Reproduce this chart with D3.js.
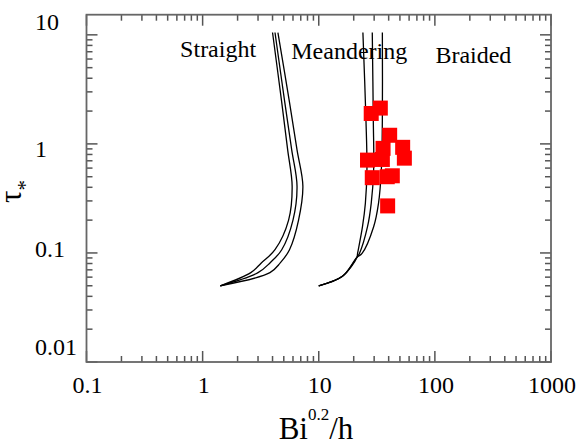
<!DOCTYPE html>
<html>
<head>
<meta charset="utf-8">
<script src="https://cdn.jsdelivr.net/npm/d3@7"></script>
<style>
  body { margin: 0; background: #fff; }
  svg { display: block; }
</style>
</head>
<body>
<script>
const width = 585;
const height = 446;
const marginTop = 14.7;
const marginRight = 34;
const marginBottom = 84;
const marginLeft = 86.5;
const serif = "Liberation Serif";

// tick labels
const xTickLabels = [0.1, 1, 10, 100, 1000];
const yTickLabels = [0.01, 0.1, 1, 10];

// Straight / Meandering boundary (three curves), [Bi^0.2/h, tau*]
const straightA = [[4.0, 10.5], [4.8, 2.4], [5.4, 0.88], [5.9, 0.41], [5.5, 0.2], [4.2, 0.107], [3.2, 0.081], [2.6, 0.066], [1.42, 0.05]];
const straightB = [[4.2, 10.5], [5.1, 2.4], [5.85, 0.88], [6.5, 0.41], [6.0, 0.2], [4.8, 0.107], [3.8, 0.081], [3.0, 0.066], [1.42, 0.05]];
const straightC = [[4.45, 10.5], [5.6, 2.4], [6.5, 0.88], [7.3, 0.41], [6.7, 0.2], [5.6, 0.107], [4.66, 0.081], [3.8, 0.066], [1.42, 0.05]];

// Meandering / Braided boundary (three curves)
const braidA = [[10, 0.05], [16, 0.061], [21.3, 0.091], [21.6, 0.099], [23.8, 0.174], [25.2, 0.285], [26, 0.58], [25.5, 1.66], [24, 10.5]];
const braidB = [[10, 0.05], [16, 0.061], [21.3, 0.091], [22.4, 0.099], [26.3, 0.174], [28.3, 0.285], [29.7, 0.58], [29.5, 1.66], [28.9, 10.5]];
const braidC = [[10, 0.05], [16, 0.061], [21.3, 0.091], [23.6, 0.099], [29.7, 0.174], [32.7, 0.285], [34.6, 0.58], [35.3, 1.66], [35.3, 10.5]];

// observed points
const obsBi = [28.3, 33.9, 40.8, 35.8, 52.8, 54.6, 26.3, 35.3, 28.9, 38.9, 43.0, 39.2];
const obsTau = [1.90, 2.13, 1.20, 0.91, 0.93, 0.74, 0.71, 0.72, 0.49, 0.50, 0.51, 0.27];

// region labels
const regionNames = ["Straight", "Meandering", "Braided"];
const regionX = [0.64, 5.8, 101];
const regionY = [6.3, 6.0, 5.5];

const x = d3.scaleLog([0.1, 1000], [marginLeft, width - marginRight]);
const y = d3.scaleLog([0.01, 15.3], [height - marginBottom, marginTop]);

const svg = d3
  .select("body")
  .append("svg")
  .attr("width", width)
  .attr("height", height)
  .attr("font-family", serif);

const x0 = marginLeft;
const x1 = width - marginRight;
const y0 = height - marginBottom;
const y1 = marginTop;

// ticks (inward, mirrored on all four sides)
const xMinor = x.ticks().filter((d) => !xTickLabels.includes(d));
const yMinor = y.ticks().filter((d) => !yTickLabels.includes(d));
const tickColor = "#555";
const major = 11;
const minor = 6;

const ticks = svg.append("g").attr("stroke", tickColor).attr("stroke-width", 1.5);

function xTicks(vals, len) {
  ticks.append("g").selectAll("line").data(vals).join("line")
    .attr("x1", (d) => x(d)).attr("x2", (d) => x(d))
    .attr("y1", y0).attr("y2", y0 - len);
  ticks.append("g").selectAll("line").data(vals).join("line")
    .attr("x1", (d) => x(d)).attr("x2", (d) => x(d))
    .attr("y1", y1).attr("y2", y1 + len);
}
function yTicks(vals, len) {
  ticks.append("g").selectAll("line").data(vals).join("line")
    .attr("y1", (d) => y(d)).attr("y2", (d) => y(d))
    .attr("x1", x0).attr("x2", x0 + len);
  ticks.append("g").selectAll("line").data(vals).join("line")
    .attr("y1", (d) => y(d)).attr("y2", (d) => y(d))
    .attr("x1", x1).attr("x2", x1 - len);
}
xTicks(xTickLabels, major);
xTicks(xMinor, minor);
yTicks(yTickLabels, major);
yTicks(yMinor, minor);

// frame
svg.append("rect")
  .attr("x", x0).attr("y", y1)
  .attr("width", x1 - x0).attr("height", y0 - y1)
  .attr("fill", "none")
  .attr("stroke", "#666")
  .attr("stroke-width", 1.8);

// tick labels
svg.append("g")
  .attr("font-size", 24)
  .attr("text-anchor", "middle")
  .selectAll("text")
  .data(xTickLabels)
  .join("text")
  .attr("font-family", serif)
  .attr("x", (d) => x(d) + 1)
  .attr("y", y0 + 31)
  .text((d) => d);

// the y labels in the original sit slightly off their ticks
const yLabelNudge = [-15, -4, 5, -13];
svg.append("g")
  .attr("font-size", 24)
  .attr("text-anchor", "start")
  .selectAll("text")
  .data(yTickLabels)
  .join("text")
  .attr("font-family", serif)
  .attr("x", 35)
  .attr("y", (d, i) => y(d) + yLabelNudge[i] + 8)
  .text((d) => d);

// boundary curves
const line = d3.line()
  .x((d) => x(d[0]))
  .y((d) => y(d[1]))
  .curve(d3.curveCatmullRom.alpha(0.5));

svg.append("g")
  .attr("fill", "none")
  .attr("stroke", "#000")
  .attr("stroke-width", 1.3)
  .selectAll("path")
  .data([straightA, straightB, straightC, braidA, braidB, braidC])
  .join("path")
  .attr("d", line);

// observed points
const sq = 15;
svg.append("g")
  .attr("fill", "#ff0000")
  .selectAll("rect")
  .data(obsBi.map((d, i) => [d, obsTau[i]]))
  .join("rect")
  .attr("x", (d) => x(d[0]) - sq / 2)
  .attr("y", (d) => y(d[1]) - sq / 2)
  .attr("width", sq)
  .attr("height", sq);

// region labels
svg.append("g")
  .attr("font-size", 24)
  .selectAll("text")
  .data(regionNames)
  .join("text")
  .attr("font-family", serif)
  .attr("x", (d, i) => x(regionX[i]))
  .attr("y", (d, i) => y(regionY[i]))
  .text((d) => d);

// axis titles
const xt = svg.append("text")
  .attr("font-family", serif)
  .attr("x", 316)
  .attr("y", 439)
  .attr("text-anchor", "middle")
  .attr("font-size", 31);
xt.append("tspan").text("Bi");
xt.append("tspan").attr("font-size", 17).attr("dy", -19).text("0.2");
xt.append("tspan").attr("dy", 19).text("/h");

const yt = svg.append("text")
  .attr("font-family", serif)
  .attr("transform", "translate(21,203) rotate(-90)")
  .attr("font-size", 31);
yt.append("tspan").text("τ");
yt.append("tspan").attr("font-size", 21).attr("dy", 11).text("*");
</script>
</body>
</html>
